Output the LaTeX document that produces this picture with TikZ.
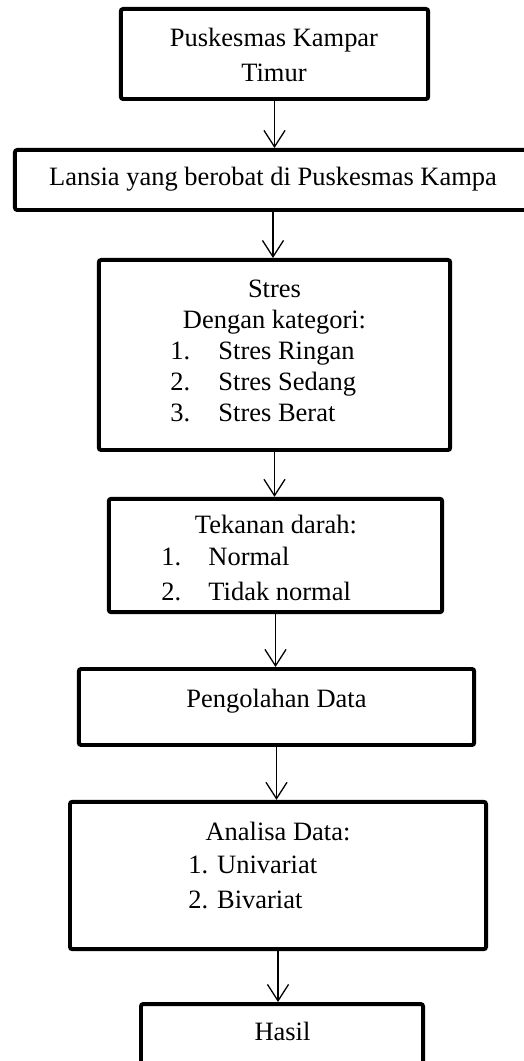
\documentclass[tikz,border=0pt]{standalone}
\usepackage{fontspec}
\setmainfont{Liberation Serif}
\usepackage{tikz}
\usetikzlibrary{arrows.meta,positioning,calc}
\tikzset{stage/.style={draw=black,line width=1.7pt,rounded corners=1pt,inner sep=0pt}, txt/.style={inner sep=0pt,font=\fontsize{11.3}{13}\selectfont,anchor=base}, item/.style={txt,anchor=base west}, flow/.style={-{Straight Barb[length=7pt,width=9pt]},line width=0.55pt,draw=black}}

\begin{document}
\begin{tikzpicture}[x=0.015cm,y=-0.015cm]
\useasboundingbox (0,0) rectangle (524,1061);
\clip (0,0) rectangle (524,1061);
\node[stage,minimum width=4.61cm,minimum height=1.35cm] (puskesmas) at (274.5,54) {};
\node[stage,minimum width=7.74cm,minimum height=0.90cm] (lansia) at (273,180) {};
\node[stage,minimum width=5.27cm,minimum height=2.85cm] (stres) at (274.5,355) {};
\node[stage,minimum width=5.00cm,minimum height=1.70cm] (tekanan) at (275.5,555.5) {};
\node[stage,minimum width=5.93cm,minimum height=1.14cm] (olah) at (276.5,707) {};
\node[stage,minimum width=6.24cm,minimum height=2.21cm] (analisa) at (278,875.5) {};
\node[stage,minimum width=4.23cm,minimum height=1.23cm] (hasil) at (282,1045) {};
% texts
\node[txt] (t1a) at (274,47) {Puskesmas Kampar};
\node[txt] (t1b) at (274,82) {Timur};
\node[txt] (t2) at (273,186) {Lansia yang berobat di Puskesmas Kampa};
\node[txt] (t3a) at (274.5,298) {Stres};
\node[txt] (t3b) at (274.5,329) {Dengan kategori:};
\node[item] (n31) at (170,360) {1.};
\node[item] (s31) at (218,360) {Stres Ringan};
\node[item] (n32) at (170,391) {2.};
\node[item] (s32) at (218,391) {Stres Sedang};
\node[item] (n33) at (170,422) {3.};
\node[item] (s33) at (218,422) {Stres Berat};
\node[txt] (t4) at (276,533) {Tekanan darah:};
\node[item] (n41) at (161,565) {1.};
\node[item] (s41) at (208,565) {Normal};
\node[item] (n42) at (161,600) {2.};
\node[item] (s42) at (208,600) {Tidak normal};
\node[txt] (t5) at (276.5,707) {Pengolahan Data};
\node[txt] (t6) at (278,840) {Analisa Data:};
\node[item] (s61) at (188,873) {1. Univariat};
\node[item] (s62) at (188,908) {2. Bivariat};
\node[txt] (t7) at (282.5,1040) {Hasil};
% arrows
\draw[flow] (puskesmas.south) -- (puskesmas.south |- lansia.north);
\draw[flow] (lansia.south) -- (lansia.south |- stres.north);
\draw[flow] (stres.south) -- (stres.south |- tekanan.north);
\draw[flow] (tekanan.south) -- (tekanan.south |- olah.north);
\draw[flow] (olah.south) -- (olah.south |- analisa.north);
\draw[flow] (analisa.south) -- (analisa.south |- hasil.north);
\end{tikzpicture}
\end{document}
